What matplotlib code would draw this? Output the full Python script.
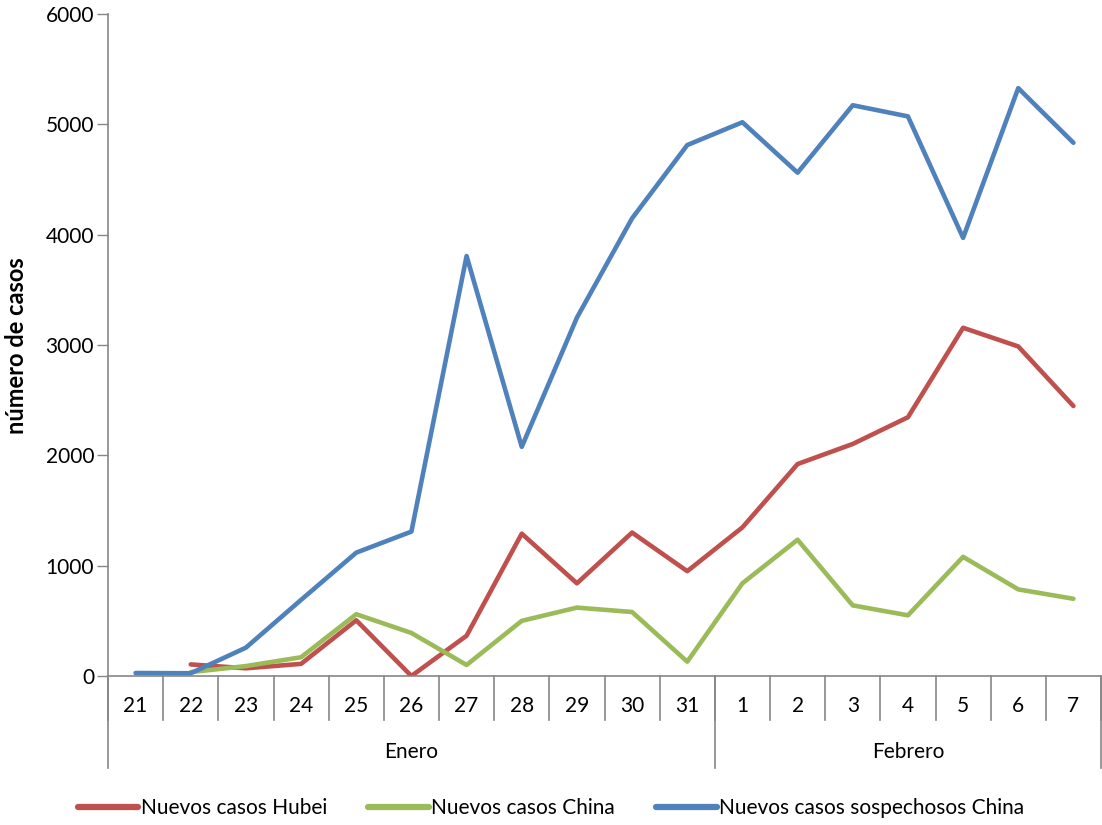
import numpy as np
from matplotlib import pyplot as plt

# days shown on the category axis (Enero 21-31, Febrero 1-7)
dias = ['21', '22', '23', '24', '25', '26', '27', '28', '29', '30', '31',
        '1', '2', '3', '4', '5', '6', '7']
meses = ['Enero', 'Febrero']
dias_por_mes = [11, 7]

nan = np.nan
hubei = [nan, 105, 70, 110, 505, 0, 365, 1290, 840, 1300, 950,
         1347, 1921, 2103, 2345, 3156, 2987, 2447]
china = [nan, 35, 90, 170, 560, 390, 100, 500, 620, 580, 130,
         840, 1235, 640, 550, 1080, 785, 700]
sospechosos = [27, 25, 257, 690, 1118, 1309, 3806, 2077, 3248, 4148, 4812,
               5019, 4562, 5173, 5072, 3971, 5328, 4833]

plt.rcParams['font.family'] = ['Lato', 'DejaVu Sans']
fs = 15

fig = plt.figure(figsize=(11.02, 8.25), dpi=100)
ax = fig.add_axes([108 / 1102, 149 / 825, 993 / 1102, 662 / 825])

x = np.arange(len(dias))
ax.plot(x, hubei, color='#C0504D', lw=3.3, label='Nuevos casos Hubei', solid_capstyle='round')
ax.plot(x, china, color='#9BBB59', lw=3.3, label='Nuevos casos China', solid_capstyle='round')
ax.plot(x, sospechosos, color='#4F81BD', lw=3.3, label='Nuevos casos sospechosos China',
        solid_capstyle='round')

ax.set_xlim(-0.5, len(dias) - 0.5)
ax.set_ylim(0, 6000)
ax.set_yticks(np.arange(0, 6001, 1000))
ax.tick_params(axis='y', length=8, color='#868686', width=1, labelsize=fs, pad=2)
ax.set_xticks([])
for s in ['top', 'right']:
    ax.spines[s].set_visible(False)
for s in ['left', 'bottom']:
    ax.spines[s].set_color('#868686')
    ax.spines[s].set_linewidth(1.2)

# multi-level category axis
tr = ax.get_xaxis_transform()
lvl1 = -44 / 662
lvl2 = -92 / 662
for k in range(len(dias) + 1):
    ax.plot([k - 0.5, k - 0.5], [0, lvl1], color='#868686', lw=1.2, transform=tr, clip_on=False)
for i, d in enumerate(dias):
    ax.text(i, -30 / 662, d, transform=tr, ha='center', va='center', fontsize=fs)
start = 0
bounds = [0]
for m, n in zip(meses, dias_por_mes):
    ax.text(start + (n - 1) / 2, -76 / 662, m, transform=tr, ha='center', va='center', fontsize=fs)
    start += n
    bounds.append(start)
for b in bounds:
    ax.plot([b - 0.5, b - 0.5], [0, lvl2], color='#868686', lw=1.2, transform=tr, clip_on=False)

fig.text(17 / 1102, 1 - 346 / 825, 'número de casos', rotation=90, ha='center', va='center',
         fontsize=17, fontweight='bold')

fig.legend(loc='center', bbox_to_anchor=(0.5, 17 / 825), ncol=3, frameon=False, fontsize=fs,
           handlelength=2.9, handletextpad=0.1, columnspacing=2.0)
for h in fig.legends[0].get_lines():
    h.set_linewidth(4.5)

fig.savefig('out.png', dpi=100)
